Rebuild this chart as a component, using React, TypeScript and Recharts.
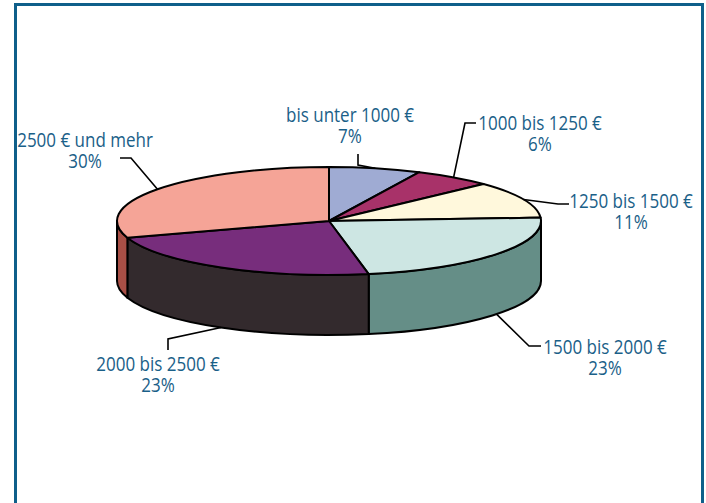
import { Pie, PieChart } from "recharts";

const categories = [
  "bis unter 1000 €",
  "1000 bis 1250 €",
  "1250 bis 1500 €",
  "1500 bis 2000 €",
  "2000 bis 2500 €",
  "2500 € und mehr",
];
const shares = [7, 6, 11, 23, 23, 30];
const topColors = ["#9fabd3", "#a83269", "#fff8dc", "#cde6e3", "#772d7c", "#f5a497"];
const sideColors = ["#6f7896", "#76234a", "#b3ad9a", "#658e87", "#332a2d", "#a84f46"];

// label block centre + first baseline, then the two bends of the leader
const labelLayout = [
  { x: 350, y: 122, bends: [[358, 165], [358, 154]] },
  { x: 540, y: 130, bends: [[465, 123], [476, 123]] },
  { x: 631, y: 208, bends: [[558, 204], [569, 204]] },
  { x: 605, y: 354, bends: [[529, 346], [541, 346]] },
  { x: 158, y: 371, bends: [[168, 339], [168, 350]] },
  { x: 85, y: 147, bends: [[131, 158], [120, 158]] },
];

const rows = categories.map((name, i) => ({ name, value: shares[i], top: topColors[i], side: sideColors[i] }));

const TILT = 54 / 212;
const DEPTH = 60;
const FRAME = "#0f5f8a";
const TEXT = "#1a6088";
const NARROW = 0.85;

// angle t: clockwise degrees from 12 o'clock
function onRim(cx: number, cy: number, r: number, t: number) {
  const rad = (t * Math.PI) / 180;
  return [cx + r * Math.sin(rad), cy - r * TILT * Math.cos(rad)];
}

function TopFace(props: any) {
  const { cx, cy, outerRadius: r, startAngle, endAngle, index } = props;
  const t1 = 90 - startAngle;
  const t2 = 90 - endAngle;
  const [x1, y1] = onRim(cx, cy, r, t1);
  const [x2, y2] = onRim(cx, cy, r, t2);
  const large = t2 - t1 > 180 ? 1 : 0;
  return (
    <path
      d={`M${cx},${cy} L${x1},${y1} A${r},${r * TILT} 0 ${large} 1 ${x2},${y2} Z`}
      fill={topColors[index]}
      stroke="#000"
      strokeWidth={2}
      strokeLinejoin="round"
    />
  );
}

function SideWall(props: any) {
  const { cx, cy, outerRadius: r, startAngle, endAngle, index } = props;
  // only the front half of the rim shows a wall
  const t1 = Math.max(90 - startAngle, 90);
  const t2 = Math.min(90 - endAngle, 270);
  if (t1 >= t2) return <g />;
  const [x1, y1] = onRim(cx, cy, r, t1);
  const [x2, y2] = onRim(cx, cy, r, t2);
  const ry = r * TILT;
  return (
    <path
      d={`M${x1},${y1} A${r},${ry} 0 0 1 ${x2},${y2} L${x2},${y2 + DEPTH} A${r},${ry} 0 0 0 ${x1},${y1 + DEPTH} Z`}
      fill={sideColors[index]}
      stroke="#000"
      strokeWidth={2}
      strokeLinejoin="round"
    />
  );
}

function LabelLine({ x, y, children }: { x: number; y: number; children: any }) {
  return (
    <text
      transform={`translate(${x} ${y}) scale(${NARROW} 1)`}
      textAnchor="middle"
      fill={TEXT}
      style={{ fontFamily: '"Open Sans", sans-serif', fontSize: 20 }}
    >
      {children}
    </text>
  );
}

function SliceLabel(props: any) {
  const { cx, cy, outerRadius: r, midAngle, index } = props;
  const t = 90 - midAngle;
  const norm = ((t % 360) + 360) % 360;
  const [ax, ay0] = onRim(cx, cy, r, norm);
  // leaders of the front slices start on the lower rim of the wall
  const ay = norm > 90 && norm < 270 ? ay0 + DEPTH : ay0;
  const pos = labelLayout[index];
  const pts = [[ax, ay], ...pos.bends].map((p) => p.join(",")).join(" ");
  return (
    <g>
      <polyline points={pts} fill="none" stroke="#000" strokeWidth={1.6} />
      <LabelLine x={pos.x} y={pos.y}>{categories[index]}</LabelLine>
      <LabelLine x={pos.x} y={pos.y + 21}>{shares[index] + "%"}</LabelLine>
    </g>
  );
}

export default function App() {
  return (
    <div style={{ position: "absolute", left: 0, top: 0, width: 706, height: 503, overflow: "hidden", background: "#fff" }}>
      <div
        style={{
          position: "absolute",
          left: 14,
          top: 3,
          width: 684,
          height: 520,
          borderLeft: `3px solid ${FRAME}`,
          borderRight: `3px solid ${FRAME}`,
          borderTop: `3px solid ${FRAME}`,
        }}
      />
      <div style={{ position: "absolute", left: 0, top: 0 }}>
        <PieChart width={706} height={503} margin={{ top: 0, right: 0, bottom: 0, left: 0 }}>
          <Pie
            data={rows}
            dataKey="value"
            nameKey="name"
            cx={329}
            cy={221}
            outerRadius={212}
            startAngle={90}
            endAngle={-270}
            shape={SideWall}
            isAnimationActive={false}
          />
          <Pie
            data={rows}
            dataKey="value"
            nameKey="name"
            cx={329}
            cy={221}
            outerRadius={212}
            startAngle={90}
            endAngle={-270}
            shape={TopFace}
            label={SliceLabel}
            labelLine={false}
            isAnimationActive={false}
          />
        </PieChart>
      </div>
    </div>
  );
}
